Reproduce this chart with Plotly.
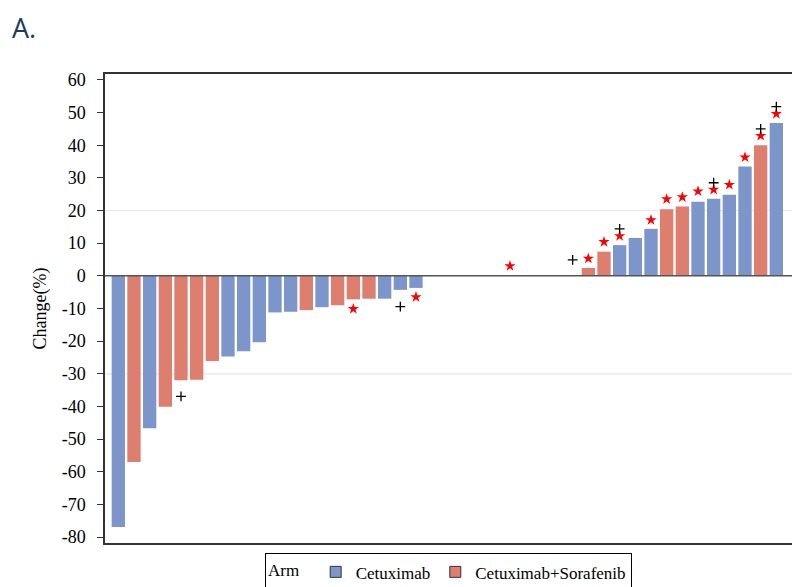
import plotly.graph_objects as go

# ---- data ----
patient = list(range(1, 44))
arm = (["Cetuximab", "Cetuximab+Sorafenib", "Cetuximab", "Cetuximab+Sorafenib",
        "Cetuximab+Sorafenib", "Cetuximab+Sorafenib", "Cetuximab+Sorafenib",
        "Cetuximab", "Cetuximab", "Cetuximab", "Cetuximab", "Cetuximab",
        "Cetuximab+Sorafenib", "Cetuximab", "Cetuximab+Sorafenib",
        "Cetuximab+Sorafenib", "Cetuximab+Sorafenib", "Cetuximab", "Cetuximab",
        "Cetuximab"]
       + ["Cetuximab"] * 10
       + ["Cetuximab+Sorafenib", "Cetuximab+Sorafenib", "Cetuximab", "Cetuximab",
          "Cetuximab", "Cetuximab+Sorafenib", "Cetuximab+Sorafenib", "Cetuximab",
          "Cetuximab", "Cetuximab", "Cetuximab", "Cetuximab+Sorafenib", "Cetuximab"])
change = [-76.9, -57.0, -46.7, -40.1, -32.0, -31.8, -26.1, -24.7, -23.1, -20.3,
          -11.2, -11.0, -10.5, -9.6, -9.0, -7.2, -7.0, -7.0, -4.3, -3.7,
          0, 0, 0, 0, 0, 0, 0, 0, 0, 0,
          2.4, 7.4, 9.4, 11.6, 14.4, 20.4, 21.2, 22.7, 23.6, 24.8, 33.5, 40.0, 46.8]
star_patient = [16, 20, 26, 31, 32, 33, 35, 36, 37, 38, 39, 40, 41, 42, 43]
star_y = [-10.1, -6.5, 3.0, 5.3, 10.4, 12.2, 17.1, 23.5, 24.1, 25.9, 26.4, 27.9, 36.3, 42.9, 49.6]
plus_patient = [5, 19, 30, 33, 39, 42, 43]
plus_y = [-36.9, -9.4, 4.9, 14.4, 28.5, 45.0, 51.8]
ref_lines = [20, -30]
y_ticks = list(range(-80, 61, 10))
y_tick_labels = [str(v) for v in y_ticks]

arm_names = ["Cetuximab", "Cetuximab+Sorafenib"]
arm_colors = {"Cetuximab": "#7C95CA", "Cetuximab+Sorafenib": "#DE7E6F"}
SERIF = "Liberation Serif"

fig = go.Figure()

for a in arm_names:
    xs = [p for p, ar in zip(patient, arm) if ar == a]
    ys = [c for c, ar in zip(change, arm) if ar == a]
    fig.add_trace(go.Bar(x=xs, y=ys, name=a, width=0.85, showlegend=False,
                         marker=dict(color=arm_colors[a], line=dict(width=0))))
    # legend entries
    fig.add_trace(go.Scatter(x=[None], y=[None], mode="markers", name=a,
                             marker=dict(symbol="square", size=11, color=arm_colors[a],
                                         line=dict(color="#333333", width=1))))

fig.add_trace(go.Scatter(x=star_patient, y=star_y, mode="markers", showlegend=False,
                         marker=dict(symbol="star", size=8.5, color="#FF0000",
                                     line=dict(width=0))))
fig.add_trace(go.Scatter(x=plus_patient, y=plus_y, mode="markers", showlegend=False,
                         marker=dict(symbol="cross-thin", size=7,
                                     line=dict(color="#000000", width=1.3))))

for r in ref_lines:
    fig.add_shape(type="line", xref="paper", x0=0, x1=1, yref="y", y0=r, y1=r,
                  line=dict(color="#E6E6E6", width=1.2), layer="below")
fig.add_shape(type="line", xref="paper", x0=0, x1=1, yref="y", y0=0, y1=0,
              line=dict(color="#555555", width=1.5), layer="above")

fig.update_layout(
    width=792, height=579,
    barmode="overlay",
    paper_bgcolor="white", plot_bgcolor="white",
    margin=dict(l=97, r=8, t=66, b=44, autoexpand=False),
    font=dict(family=SERIF, size=18, color="#000000"),
    xaxis=dict(range=[0.15, 44.0], showticklabels=False, ticks="", showgrid=False,
               zeroline=False, showline=True, mirror=True, linecolor="#333333",
               linewidth=1.5, automargin=False),
    yaxis=dict(range=[-81.8, 61.8], tickvals=y_ticks, ticktext=y_tick_labels,
               ticks="outside", ticklen=6, ticklabelstandoff=8,
               tickcolor="#333333", tickwidth=1.2, showgrid=False, zeroline=False,
               showline=True, mirror=True, linecolor="#333333", linewidth=1.5,
               automargin=False,
               title=dict(text="Change(%)", font=dict(family=SERIF, size=18), standoff=10),
               tickfont=dict(family=SERIF, size=18)),
    legend=dict(orientation="h", x=0.5, xanchor="center", y=-0.022, yanchor="top",
                bordercolor="#000000", borderwidth=1,
                title=dict(text="Arm  ", font=dict(family=SERIF, size=17)),
                font=dict(family=SERIF, size=17), itemwidth=30,
                tracegroupgap=0),
    annotations=[dict(text="A.", xref="paper", yref="paper", x=-0.139, y=1.142,
                      xanchor="left", yanchor="top", showarrow=False,
                      font=dict(family="Open Sans", size=27, color="#1F3864"))],
)

fig.write_html("out.html")
